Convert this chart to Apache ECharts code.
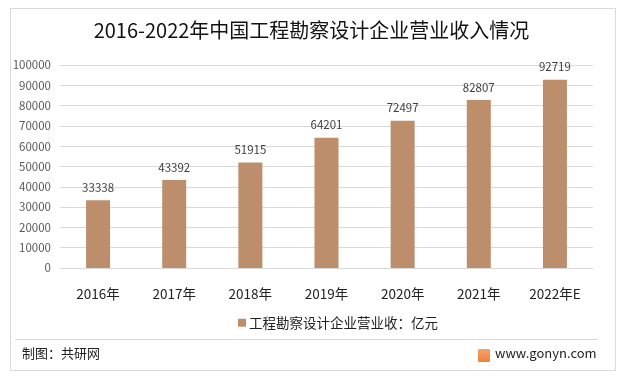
<!DOCTYPE html>
<html>
<head>
<meta charset="utf-8">
<script src="https://cdn.jsdelivr.net/npm/echarts@6/dist/echarts.min.js"></script>
<style>
    html, body {margin: 0; padding: 0; background: #fff;}
    #main {width: 623px; height: 376px;}
</style>
</head>
<body>
<div id="main"></div>
<script>
// 年份与营业收入（亿元）
var years = ['2016年', '2017年', '2018年', '2019年', '2020年', '2021年', '2022年E'];
var revenue = [33338, 43392, 51915, 64201, 72497, 82807, 92719];
var seriesName = '工程勘察设计企业营业收：亿元';

var font = "'Noto Sans CJK SC', 'Noto Sans', sans-serif";
var barColor = '#BD8E6C';

var myChart = echarts.init(document.getElementById('main'));
var option = {
    backgroundColor: '#fff',
    textStyle: {fontFamily: font},
    title: {
        text: '2016-2022年中国工程勘察设计企业营业收入情况',
        left: 'center',
        top: 15,
        textStyle: {color: '#111', fontSize: 20, fontWeight: 'normal', fontFamily: font}
    },
    legend: {
        data: [seriesName],
        left: 233,
        top: 311,
        itemWidth: 8,
        itemHeight: 8,
        itemGap: 3,
        icon: 'rect',
        textStyle: {color: '#222', fontSize: 13.5, fontFamily: font, padding: [0, 0, 0, -2]}
    },
    grid: {left: 60, right: 30, top: 65, bottom: 108},
    xAxis: {
        type: 'category',
        data: years,
        axisLine: {lineStyle: {color: '#d9d9d9'}},
        axisTick: {show: false},
        axisLabel: {color: '#222', fontSize: 13.5, margin: 19, fontFamily: font}
    },
    yAxis: {
        type: 'value',
        min: 0,
        max: 100000,
        interval: 10000,
        axisLine: {show: false},
        axisTick: {show: false},
        axisLabel: {
            color: '#595959', fontSize: 11.5, margin: 9, fontFamily: font,
            formatter: function (v) { return String(v); }
        },
        splitLine: {lineStyle: {color: '#d9d9d9'}}
    },
    series: [{
        name: seriesName,
        type: 'bar',
        data: revenue,
        barWidth: 24,
        itemStyle: {color: barColor},
        label: {
            show: true,
            position: 'top',
            distance: 7,
            color: '#404040',
            fontSize: 11.5,
            fontFamily: font
        }
    }],
    graphic: [
        {
            type: 'rect',
            shape: {x: 10.5, y: 8.5, width: 605, height: 362},
            style: {fill: 'none', stroke: '#d9d9d9', lineWidth: 1},
            z: -1
        },
        {
            type: 'line',
            shape: {x1: 15, y1: 339.5, x2: 598, y2: 339.5},
            style: {stroke: '#d9d9d9', lineWidth: 1}
        },
        {
            type: 'text',
            left: 22,
            top: 347,
            style: {text: '制图：共研网', fill: '#222', font: '13px ' + font}
        },
        {
            type: 'rect',
            shape: {x: 478, y: 349, width: 12, height: 13, r: 1},
            style: {
                fill: new echarts.graphic.LinearGradient(0, 0, 0, 1, [
                    {offset: 0, color: '#F4A26B'},
                    {offset: 1, color: '#F0803C'}
                ])
            }
        },
        {
            type: 'text',
            left: 495,
            top: 347,
            style: {text: 'www.gonyn.com', fill: '#222', font: '13px ' + font}
        }
    ]
};
myChart.setOption(option, true);
</script>
</body>
</html>
